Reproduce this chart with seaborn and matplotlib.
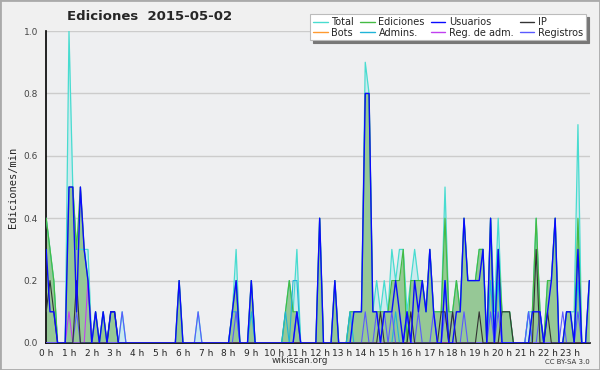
import numpy as np
import pandas as pd
import matplotlib
matplotlib.use('Agg')
import matplotlib.pyplot as plt
import seaborn as sns
from matplotlib.ticker import MultipleLocator, FormatStrFormatter

# edits per minute, one value per 10 minutes (6 values per hour, 24 hours)
total = [0.4, 0.3, 0.2, 0, 0, 0,  1.0, 0.5, 0.3, 0.3, 0.3, 0.3,  0, 0.1, 0, 0.1, 0, 0.1,  0.1, 0, 0.1, 0, 0, 0,
         0, 0, 0, 0, 0, 0,  0, 0, 0, 0, 0, 0.2,  0, 0, 0, 0, 0.1, 0,  0, 0, 0, 0, 0, 0,
         0, 0.1, 0.3, 0, 0, 0,  0.2, 0, 0, 0, 0, 0,  0, 0, 0, 0.1, 0.2, 0.1,  0.3, 0, 0, 0, 0, 0,
         0.4, 0, 0, 0, 0.2, 0,  0, 0, 0.1, 0.1, 0.1, 0.1,  0.9, 0.8, 0.1, 0.2, 0.1, 0.2,  0.1, 0.3, 0.2, 0.3, 0.3, 0.1,
         0.2, 0.3, 0.2, 0.2, 0.1, 0.3,  0.1, 0.1, 0.1, 0.5, 0.1, 0.1,  0.2, 0.1, 0.4, 0.2, 0.2, 0.2,  0.3, 0.3, 0, 0.4, 0.1, 0.4,
         0.1, 0.1, 0.1, 0, 0, 0,  0, 0.1, 0.1, 0.4, 0.1, 0,  0.2, 0.2, 0.4, 0, 0, 0.1,  0.1, 0.1, 0.7, 0, 0, 0.2]
ediciones = [0.4, 0.3, 0.2, 0, 0, 0,  0.5, 0.5, 0.3, 0.5, 0.3, 0.2,  0, 0.1, 0, 0.1, 0, 0.1,  0.1, 0, 0, 0, 0, 0,
             0, 0, 0, 0, 0, 0,  0, 0, 0, 0, 0, 0.2,  0, 0, 0, 0, 0, 0,  0, 0, 0, 0, 0, 0,
             0, 0.1, 0.2, 0, 0, 0,  0.2, 0, 0, 0, 0, 0,  0, 0, 0, 0.1, 0.2, 0.1,  0.1, 0, 0, 0, 0, 0,
             0.4, 0, 0, 0, 0.2, 0,  0, 0, 0.1, 0.1, 0.1, 0.1,  0.8, 0.8, 0.1, 0.1, 0.1, 0.1,  0.1, 0.2, 0.2, 0.2, 0.3, 0,
             0.2, 0.2, 0.2, 0.2, 0.1, 0.3,  0.1, 0.1, 0.1, 0.4, 0.1, 0.1,  0.2, 0.1, 0.4, 0.2, 0.2, 0.2,  0.3, 0.3, 0, 0.4, 0, 0.3,
             0.1, 0.1, 0.1, 0, 0, 0,  0, 0, 0.1, 0.4, 0.1, 0,  0.2, 0.2, 0.4, 0, 0, 0.1,  0.1, 0, 0.4, 0, 0, 0.2]
usuarios = [0.3, 0.1, 0.1, 0, 0, 0,  0.5, 0.5, 0.1, 0.5, 0.3, 0.2,  0, 0.1, 0, 0.1, 0, 0.1,  0.1, 0, 0, 0, 0, 0,
            0, 0, 0, 0, 0, 0,  0, 0, 0, 0, 0, 0.2,  0, 0, 0, 0, 0, 0,  0, 0, 0, 0, 0, 0,
            0, 0.1, 0.2, 0, 0, 0,  0.2, 0, 0, 0, 0, 0,  0, 0, 0, 0, 0, 0,  0.1, 0, 0, 0, 0, 0,
            0.4, 0, 0, 0, 0.2, 0,  0, 0, 0, 0.1, 0.1, 0.1,  0.8, 0.8, 0.1, 0.1, 0, 0.1,  0.1, 0.1, 0.2, 0.1, 0, 0.1,
            0, 0.2, 0.1, 0.2, 0.1, 0.3,  0.1, 0, 0, 0.2, 0, 0,  0.1, 0.1, 0.4, 0.2, 0.2, 0.2,  0.2, 0.3, 0, 0.4, 0, 0.3,
            0, 0, 0, 0, 0, 0,  0, 0, 0.1, 0.1, 0.1, 0,  0.1, 0.2, 0.4, 0, 0, 0.1,  0.1, 0, 0.3, 0, 0, 0.2]
ip = [0.1, 0.2, 0.1, 0, 0, 0,  0, 0, 0.2, 0, 0, 0,  0, 0, 0, 0, 0, 0.1,  0.1, 0, 0, 0, 0, 0,
      0, 0, 0, 0, 0, 0,  0, 0, 0, 0, 0, 0,  0, 0, 0, 0, 0, 0,  0, 0, 0, 0, 0, 0,
      0, 0, 0, 0, 0, 0,  0, 0, 0, 0, 0, 0,  0, 0, 0, 0, 0, 0,  0, 0, 0, 0, 0, 0,
      0, 0, 0, 0, 0, 0,  0, 0, 0, 0, 0, 0,  0, 0, 0, 0, 0.1, 0,  0, 0, 0, 0, 0, 0,
      0.1, 0, 0, 0, 0, 0,  0, 0, 0.1, 0.1, 0, 0.1,  0, 0, 0, 0, 0, 0,  0.1, 0, 0, 0, 0, 0,
      0.1, 0.1, 0.1, 0, 0, 0,  0, 0, 0, 0.3, 0, 0,  0.1, 0, 0, 0, 0, 0,  0, 0, 0, 0, 0, 0]
registros = [0, 0, 0, 0, 0, 0,  0, 0, 0.1, 0, 0, 0,  0, 0, 0, 0, 0, 0,  0, 0, 0.1, 0, 0, 0,
             0, 0, 0, 0, 0, 0,  0, 0, 0, 0, 0, 0,  0, 0, 0, 0, 0.1, 0,  0, 0, 0, 0, 0, 0,
             0, 0, 0.1, 0, 0, 0,  0, 0, 0, 0, 0, 0,  0, 0, 0, 0, 0, 0,  0.1, 0, 0, 0, 0, 0,
             0, 0, 0, 0, 0, 0,  0, 0, 0, 0, 0, 0,  0.1, 0, 0, 0.1, 0, 0.1,  0, 0.1, 0, 0, 0, 0.1,
             0, 0, 0.1, 0, 0, 0,  0.1, 0, 0, 0.1, 0, 0.1,  0, 0, 0.1, 0, 0, 0,  0, 0, 0, 0.1, 0, 0.1,
             0, 0, 0, 0, 0, 0,  0, 0.1, 0, 0, 0.1, 0,  0, 0, 0, 0, 0.1, 0,  0, 0, 0.1, 0, 0, 0]
admins = [0, 0, 0, 0, 0, 0,  0, 0, 0, 0, 0, 0,  0, 0, 0, 0, 0, 0,  0, 0, 0, 0, 0, 0,
          0, 0, 0, 0, 0, 0,  0, 0, 0, 0, 0, 0,  0, 0, 0, 0, 0, 0,  0, 0, 0, 0, 0, 0,
          0, 0.1, 0.1, 0, 0, 0,  0.1, 0, 0, 0, 0, 0,  0, 0, 0, 0.1, 0, 0.2,  0.2, 0, 0, 0, 0, 0,
          0, 0, 0, 0, 0, 0,  0, 0, 0.1, 0, 0, 0,  0, 0, 0, 0, 0, 0,  0, 0, 0.1, 0, 0, 0.1,
          0, 0, 0, 0, 0, 0,  0, 0, 0, 0.2, 0, 0,  0, 0, 0, 0, 0, 0,  0, 0, 0, 0.2, 0, 0.2,
          0, 0, 0, 0, 0, 0,  0, 0.1, 0, 0, 0, 0,  0, 0, 0, 0, 0, 0,  0, 0, 0.2, 0, 0, 0]
reg_adm = [0, 0, 0, 0, 0, 0,  0.1, 0, 0, 0, 0, 0.2] + [0] * 132
bots = [0] * 144

hours = [i / 6 for i in range(144)]
hour_labels = [f'{h} h' for h in range(24)]

df = pd.DataFrame({'hora': hours, 'Total': total, 'Ediciones': ediciones,
                   'Usuarios': usuarios, 'IP': ip, 'Bots': bots, 'Admins.': admins,
                   'Reg. de adm.': reg_adm, 'Registros': registros})

sns.set_style('white')
plt.rcParams['font.family'] = ['DejaVu Sans']

fig = plt.figure(figsize=(6, 3.7), dpi=100, facecolor='#f0f0f0')
ax = fig.add_axes([0.077, 0.073, 0.906, 0.843])
ax.set_facecolor('#eeeff1')

# filled areas first
ax.fill_between(df['hora'], df['Total'], color='#cceaee', lw=0, zorder=1)
ax.fill_between(df['hora'], df['Ediciones'], color='#96c896', lw=0, zorder=2)

styles = [
    ('Total', '#48dcd0', 0.9),
    ('Bots', '#ff9a30', 0.8),
    ('Ediciones', '#44bb44', 0.9),
    ('Admins.', '#20b4d8', 0.8),
    ('Usuarios', '#0a0aff', 1.0),
    ('Reg. de adm.', '#c040f0', 0.8),
    ('IP', '#333333', 0.8),
    ('Registros', '#5a5aff', 0.8),
]
draw_order = ['Total', 'Ediciones', 'Bots', 'Admins.', 'Reg. de adm.', 'Registros', 'IP', 'Usuarios']
style_map = {name: (c, w) for name, c, w in styles}
for z, name in enumerate(draw_order):
    c, w = style_map[name]
    sns.lineplot(data=df, x='hora', y=name, ax=ax, color=c, lw=w, label=name, zorder=3 + z, legend=False)

ax.set_xlim(0, 143 / 6 + 0.02)
ax.set_ylim(0, 1.0)
ax.set_xticks(range(24))
ax.set_xticklabels(hour_labels, fontsize=6.5)
ax.xaxis.set_minor_locator(MultipleLocator(1 / 6))
ax.yaxis.set_major_locator(MultipleLocator(0.2))
ax.yaxis.set_minor_locator(MultipleLocator(0.05))
ax.yaxis.set_major_formatter(FormatStrFormatter('%.1f'))
ax.tick_params(axis='y', which='major', length=5, width=1, labelsize=6.5, labelcolor='#444444', pad=1)
ax.tick_params(axis='y', which='minor', length=3, width=1)
ax.tick_params(axis='x', which='both', length=3, width=1, pad=1, direction='out')
ax.grid(axis='y', color='#cccccc', lw=1)
ax.set_axisbelow(True)
for s in ['top', 'right']:
    ax.spines[s].set_visible(False)
for s in ['left', 'bottom']:
    ax.spines[s].set_color('black')
    ax.spines[s].set_linewidth(1.2)
ax.set_xlabel('')
ax.set_ylabel('Ediciones/min', fontsize=7.5, family='DejaVu Sans Mono', labelpad=4)

fig.text(0.25, 0.955, 'Ediciones  2015-05-02', fontsize=9.5, fontweight='bold', ha='center', va='center')
fig.text(0.5, 0.025, 'wikiscan.org', fontsize=6.5, ha='center', va='center', color='#333333')
fig.text(0.983, 0.022, 'CC BY-SA 3.0', fontsize=5, ha='right', va='center', color='#333333')

handles, labels = ax.get_legend_handles_labels()
hmap = dict(zip(labels, handles))
order = [name for name, _, _ in styles]
leg = fig.legend([hmap[n] for n in order], order, ncol=4, loc='upper right',
                 bbox_to_anchor=(0.985, 0.975), fontsize=7, frameon=True, fancybox=False,
                 shadow={'color': '#777777', 'alpha': 1}, handlelength=1.5, handletextpad=0.4,
                 columnspacing=0.6, labelspacing=0.05, borderpad=0.3, framealpha=1)
leg.get_frame().set_edgecolor('#bbbbbb')
leg.get_frame().set_linewidth(0.8)
for line in leg.get_lines():
    line.set_linewidth(1.0)

fig.patches.append(plt.Rectangle((0, 0), 1, 1, transform=fig.transFigure, fill=False,
                                 edgecolor='#aaaaaa', lw=2, zorder=10))

fig.savefig('out.png', dpi=100, facecolor=fig.get_facecolor())
